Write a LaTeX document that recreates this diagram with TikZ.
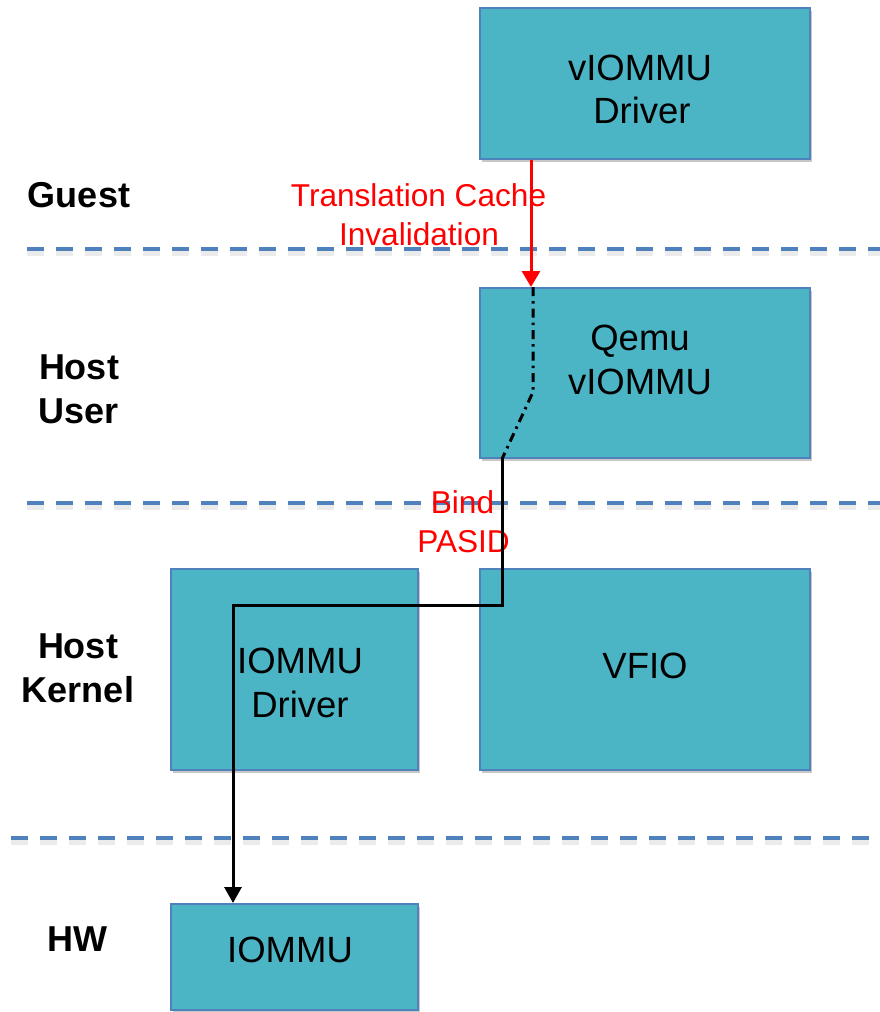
\documentclass[tikz,border=0pt]{standalone}
\usepackage{fontspec}
\setmainfont{Liberation Sans}
\usetikzlibrary{arrows.meta,shadows}
\definecolor{boxfill}{RGB}{75,180,197}
\definecolor{boxedge}{RGB}{79,129,189}
\definecolor{layerline}{RGB}{79,129,189}
\tikzset{
  box/.style={rectangle, draw=boxedge, fill=boxfill, line width=2pt, inner sep=0pt,
    drop shadow={shadow xshift=2pt, shadow yshift=-3pt, opacity=0.22, fill=black}},
  boxtext/.style={anchor=base, inner sep=0pt, font=\fontsize{36.5}{44}\selectfont},
  layer/.style={anchor=base, inner sep=0pt, font=\fontsize{36}{43}\selectfont\bfseries},
  redtext/.style={anchor=base, inner sep=0pt, text=red, font=\fontsize{31.6}{38}\selectfont},
  sep/.style={draw=layerline, line width=4.5pt, dash pattern=on 17pt off 12pt},
  sepshade/.style={draw=black, opacity=0.08, line width=6pt, dash pattern=on 17pt off 12pt},
  redarrow/.style={draw=red, line width=3pt, -{Triangle[width=18pt,length=16pt]}},
  flow/.style={draw=black, line width=3pt},
  dashdotflow/.style={draw=black, line width=3pt, dash pattern=on 9pt off 5pt on 2.5pt off 5pt},
}
\begin{document}
\begin{tikzpicture}[x=1pt,y=-1pt]
  \useasboundingbox (0,0) rectangle (880,1012);

  % layer separators (with a faint shade below)
  \draw[sepshade] (27,253) -- (880,253);
  \draw[sep] (27,249) -- (880,249);
  \draw[sepshade] (27,507) -- (880,507);
  \draw[sep] (27,503) -- (880,503);
  \draw[sepshade] (11,842) -- (880,842);
  \draw[sep] (11,838) -- (880,838);

  % layer names
  \node[layer] (guest) at (79,207) {Guest};
  \node[layer] (hu1) at (79,379) {Host};
  \node[layer] (hu2) at (79,423) {User};
  \node[layer] (hk1) at (78,658) {Host};
  \node[layer] (hk2) at (78,702) {Kernel};
  \node[layer] (hw) at (77,951) {HW};

  % component boxes
  \node[box, minimum width=330pt, minimum height=151pt] (vdrv) at (645,83.5) {};
  \node[box, minimum width=330pt, minimum height=170pt] (qemu) at (645,373) {};
  \node[box, minimum width=247pt, minimum height=201pt] (idrv) at (294.5,669.5) {};
  \node[box, minimum width=330pt, minimum height=201pt] (vfio) at (645,669.5) {};
  \node[box, minimum width=247pt, minimum height=106pt] (iommu) at (294.5,957) {};

  % box captions
  \node[boxtext] (vdrvA) at (640,80) {vIOMMU};
  \node[boxtext] (vdrvB) at (642,123) {Driver};
  \node[boxtext] (qemuA) at (640,350) {Qemu};
  \node[boxtext] (qemuB) at (640,394) {vIOMMU};
  \node[boxtext] (idrvA) at (300,673) {IOMMU};
  \node[boxtext] (idrvB) at (300,717) {Driver};
  \node[boxtext] (vfioA) at (645,678) {VFIO};
  \node[boxtext] (iommuA) at (290,962) {IOMMU};

  % request labels
  \node[redtext] (inv1) at (418.5,206) {Translation Cache};
  \node[redtext] (inv2) at (419,245) {Invalidation};
  \node[redtext] (bind1) at (462.5,513) {Bind};
  \node[redtext] (bind2) at (463.5,552) {PASID};

  % connector columns
  \coordinate (rx) at (531,0);
  \coordinate (kx) at (533,0);
  \coordinate (bend) at (533,392);
  \coordinate (jx) at (502,0);
  \coordinate (turn1) at (502,605);
  \coordinate (turn2) at (233,605);
  \coordinate (hx) at (233,0);

  % invalidation request: guest driver -> qemu vIOMMU
  \draw[redarrow] (vdrv.south -| rx) -- (qemu.north -| rx);

  % path through qemu, then bind PASID down to the IOMMU
  \draw[dashdotflow] (qemu.north -| kx) -- (bend) -- (qemu.south -| jx);
  \draw[flow, -{Triangle[width=17pt,length=16pt]}]
    (qemu.south -| jx) -- (turn1) -- (turn2) -- (iommu.north -| hx);
\end{tikzpicture}
\end{document}
